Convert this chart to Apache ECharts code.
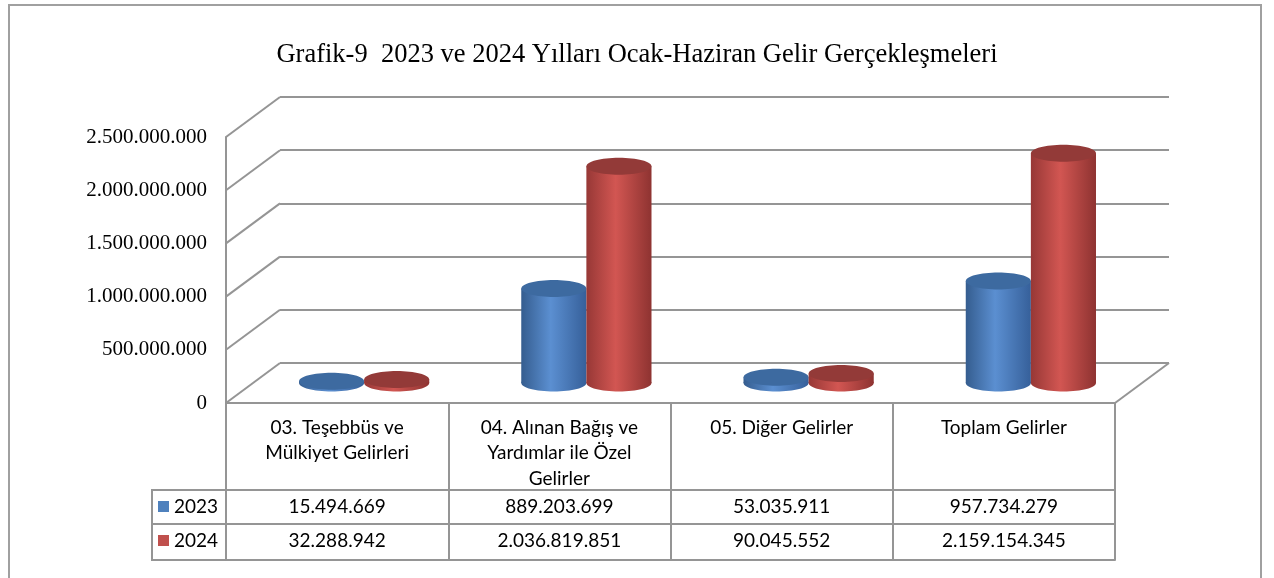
<!DOCTYPE html>
<html>
<head>
<meta charset="utf-8">
<script src="https://cdn.jsdelivr.net/npm/echarts@6/dist/echarts.min.js"></script>
<style>
  html, body { margin: 0; padding: 0; background: #fff; }
  #grafik9 { width: 1274px; height: 578px; }
</style>
</head>
<body>
<div id="grafik9"></div>
<script>
// veriler
var categories = [
  "03. Teşebbüs ve\nMülkiyet Gelirleri",
  "04. Alınan Bağış ve\nYardımlar ile Özel\nGelirler",
  "05. Diğer Gelirler",
  "Toplam Gelirler"
];
var years = ["2023", "2024"];
var values2023 = [15494669, 889203699, 53035911, 957734279];
var values2024 = [32288942, 2036819851, 90045552, 2159154345];
var yTicks = [0, 500000000, 1000000000, 1500000000, 2000000000, 2500000000];

// 3D derinlik
var DX = 54, DY = -40;
var gridColor = "#959595";
var tableFont = 19;

function fmt(n) {
  return String(n).replace(/\B(?=(\d{3})+(?!\d))/g, ".");
}

var chart = echarts.init(document.getElementById("grafik9"));

// silindir çizimi
function cylinder(side, body, top) {
  return function(params, api) {
    var base = api.coord([api.value(0), 0]);
    var head = api.coord([api.value(0), api.value(1)]);
    var band = api.size([1, 0])[0];
    var w = band * 0.293;
    var cx = base[0] + DX / 2 + side * w / 2;
    var by = base[1] + DY / 2;
    var ty = head[1] + DY / 2;
    var ry = 8.5;
    var grad = new echarts.graphic.LinearGradient(0, 0, 1, 0, body);
    return {
      type: "group",
      children: [
        { type: "ellipse", shape: { cx: cx, cy: by, rx: w / 2, ry: ry }, style: { fill: grad } },
        { type: "rect", shape: { x: cx - w / 2, y: ty, width: w, height: by - ty }, style: { fill: grad } },
        { type: "ellipse", shape: { cx: cx, cy: ty, rx: w / 2, ry: ry }, style: { fill: top } }
      ]
    };
  };
}

var option = {
  animation: false,
  backgroundColor: "#fff",
  title: {
    text: "Grafik-9  2023 ve 2024 Yılları Ocak-Haziran Gelir Gerçekleşmeleri",
    left: "center",
    top: 37,
    textStyle: { fontFamily: "Liberation Serif", fontSize: 26.5, fontWeight: "normal", color: "#000" }
  },
  legend: {
    data: years,
    orient: "vertical",
    left: 158,
    top: 497,
    itemWidth: 11,
    itemHeight: 11,
    itemGap: 15,
    padding: 0,
    selectedMode: false,
    icon: "rect",
    textStyle: { fontFamily: "Lato", fontSize: tableFont, color: "#000", lineHeight: 19 }
  },
  grid: [
    { left: 226, right: 159, top: 137, bottom: 175 },
    { left: 226 + DX, right: 159 - DX, top: 137 + DY, bottom: 175 - DY }
  ],
  xAxis: [
    {
      type: "category", gridIndex: 0, data: categories,
      axisLine: { lineStyle: { color: gridColor, width: 2 } },
      axisTick: { show: true, interval: 0, length: 157, lineStyle: { color: gridColor, width: 2 } },
      axisLabel: {
        interval: 0, margin: 12, verticalAlign: "top",
        fontFamily: "Lato", fontSize: tableFont, lineHeight: 25.5, color: "#000"
      }
    },
    {
      type: "category", gridIndex: 0, data: categories, position: "bottom", offset: 87,
      axisLine: { lineStyle: { color: gridColor, width: 2 } },
      axisTick: { show: false },
      axisLabel: {
        interval: 0, margin: 17, verticalAlign: "middle",
        fontFamily: "Lato", fontSize: tableFont, color: "#000",
        formatter: function(v, i) { return fmt(values2023[i]); }
      }
    },
    {
      type: "category", gridIndex: 0, data: categories, position: "bottom", offset: 121,
      axisLine: { lineStyle: { color: gridColor, width: 2 } },
      axisTick: { show: false },
      axisLabel: {
        interval: 0, margin: 17, verticalAlign: "middle",
        fontFamily: "Lato", fontSize: tableFont, color: "#000",
        formatter: function(v, i) { return fmt(values2024[i]); }
      }
    },
    {
      type: "category", gridIndex: 0, data: categories, position: "bottom", offset: 157,
      axisLine: { lineStyle: { color: gridColor, width: 2 } },
      axisTick: { show: false },
      axisLabel: { show: false }
    },
    {
      type: "category", gridIndex: 1, data: categories, show: false
    }
  ],
  yAxis: [
    {
      type: "value", gridIndex: 0, min: 0, max: 2500000000, interval: 500000000,
      axisLine: { show: true, lineStyle: { color: gridColor, width: 2 } },
      axisTick: { show: false },
      splitLine: { show: false },
      axisLabel: {
        margin: 19, fontFamily: "Liberation Serif", fontSize: 21, color: "#000",
        formatter: function(v) { return fmt(v); }
      }
    },
    {
      type: "value", gridIndex: 1, min: 0, max: 2500000000, interval: 500000000,
      axisLine: { show: false },
      axisTick: { show: false },
      axisLabel: { show: false },
      splitLine: { show: true, lineStyle: { color: gridColor, width: 2 } }
    }
  ],
  series: [
    {
      // yan duvar çizgileri
      type: "custom", xAxisIndex: 0, yAxisIndex: 0, silent: true, z: 1,
      data: yTicks.map(function(v) { return [0, v]; }),
      renderItem: function(params, api) {
        var p = api.coord([0, api.value(1)]);
        var x0 = p[0] - api.size([1, 0])[0] / 2;
        return {
          type: "line",
          shape: { x1: x0, y1: p[1], x2: x0 + DX, y2: p[1] + DY },
          style: { stroke: gridColor, lineWidth: 2 }
        };
      }
    },
    {
      // zemin sağ kenar
      type: "custom", xAxisIndex: 0, yAxisIndex: 0, silent: true, z: 1,
      data: [[categories.length - 1, 0]],
      renderItem: function(params, api) {
        var p = api.coord([api.value(0), 0]);
        var x0 = p[0] + api.size([1, 0])[0] / 2;
        return {
          type: "line",
          shape: { x1: x0, y1: p[1], x2: x0 + DX, y2: p[1] + DY },
          style: { stroke: gridColor, lineWidth: 2 }
        };
      }
    },
    {
      name: "2023", type: "custom", xAxisIndex: 0, yAxisIndex: 0, silent: true, z: 3,
      itemStyle: { color: "#4f81bd" },
      data: values2023.map(function(v, i) { return [i, v]; }),
      renderItem: cylinder(-1, [
        { offset: 0, color: "#355d8f" },
        { offset: 0.45, color: "#5b8fd1" },
        { offset: 1, color: "#36609a" }
      ], "#3d6aa0")
    },
    {
      name: "2024", type: "custom", xAxisIndex: 0, yAxisIndex: 0, silent: true, z: 4,
      itemStyle: { color: "#c0504d" },
      data: values2024.map(function(v, i) { return [i, v]; }),
      renderItem: cylinder(1, [
        { offset: 0, color: "#973836" },
        { offset: 0.45, color: "#d25652" },
        { offset: 1, color: "#8e3331" }
      ], "#933a38")
    }
  ],
  graphic: [
    {
      type: "rect", silent: true, z: 0,
      shape: { x: 9, y: 5, width: 1252, height: 600 },
      style: { fill: "none", stroke: "#a0a0a0", lineWidth: 2 }
    },
    // gösterge sütunu çerçevesi
    { type: "line", silent: true, shape: { x1: 152, y1: 490, x2: 226, y2: 490 }, style: { stroke: gridColor, lineWidth: 2 } },
    { type: "line", silent: true, shape: { x1: 152, y1: 524, x2: 226, y2: 524 }, style: { stroke: gridColor, lineWidth: 2 } },
    { type: "line", silent: true, shape: { x1: 152, y1: 560, x2: 226, y2: 560 }, style: { stroke: gridColor, lineWidth: 2 } },
    { type: "line", silent: true, shape: { x1: 152, y1: 489, x2: 152, y2: 561 }, style: { stroke: gridColor, lineWidth: 2 } }
  ]
};

chart.setOption(option);
</script>
</body>
</html>
